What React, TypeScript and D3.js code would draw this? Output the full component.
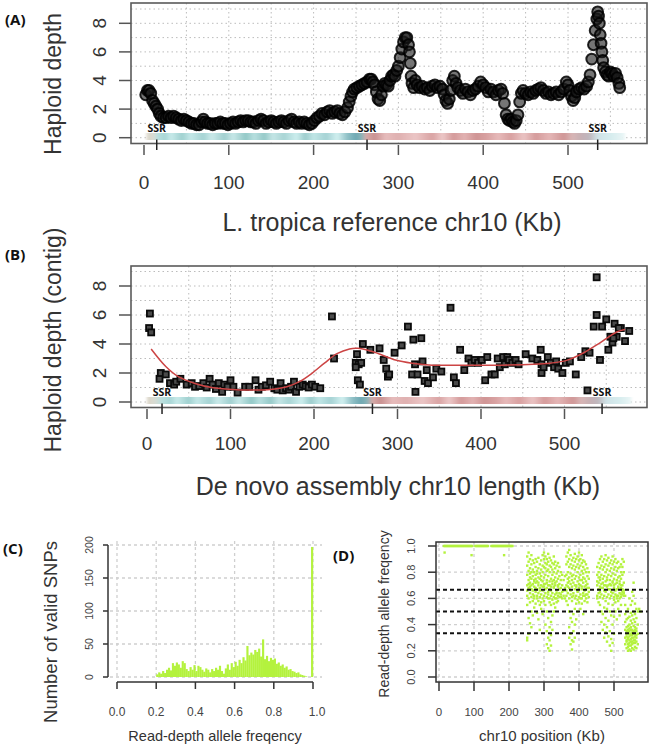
import React from "react";
import * as d3 from "d3";

const SANS = "'Liberation Sans', Arial, Helvetica, sans-serif";
const BOLD = "'Open Sans', 'Liberation Sans', sans-serif";

// ---------- shared ticks ----------
const depthTicks = [0, 2, 4, 6, 8];
const kbTicks = [0, 100, 200, 300, 400, 500];
const depthGrid = [0, 1, 2, 3, 4, 5, 6, 7, 8, 9];
const kbGrid = [50, 100, 150, 200, 250, 300, 350, 400, 450, 500, 550];

// ---------- Panel A: reference depth (Kb, haploid depth) ----------
const refDepth: [number, number][] = [
  [2, 3.0], [4, 3.3], [6, 3.3], [8, 3.1], [10, 2.6], [12, 2.4], [14, 2.2], [16, 2.0], [18, 1.7], [20, 1.5],
  [23, 1.4], [26, 1.4], [29, 1.5], [32, 1.4], [35, 1.5], [38, 1.4], [41, 1.3], [44, 1.2], [47, 1.3], [50, 1.2],
  [53, 1.1], [56, 1.0], [59, 1.0], [62, 0.9], [65, 0.9], [68, 1.1], [70, 1.3], [72, 1.1], [75, 1.0], [78, 1.0],
  [81, 0.9], [84, 1.0], [87, 1.0], [90, 1.1], [93, 1.0], [96, 1.0], [99, 0.9], [102, 1.0], [105, 1.1], [108, 1.0],
  [111, 1.1], [114, 1.2], [117, 1.1], [120, 1.2], [123, 1.2], [126, 1.1], [129, 1.1], [132, 1.0], [135, 1.2], [138, 1.3],
  [141, 1.2], [144, 1.0], [147, 1.1], [150, 1.2], [153, 1.1], [156, 1.0], [159, 1.1], [162, 1.2], [165, 1.1], [168, 1.0],
  [171, 1.2], [174, 1.3], [177, 1.1], [180, 1.0], [183, 1.1], [186, 1.0], [189, 1.1], [192, 1.0], [195, 0.9], [198, 1.0],
  [201, 1.2], [204, 1.4], [207, 1.5], [210, 1.7], [213, 1.6], [216, 1.8], [219, 1.9], [222, 1.7], [225, 1.8], [228, 1.9],
  [231, 1.7], [234, 1.6], [237, 1.8], [240, 2.1], [242, 2.5], [244, 2.9], [246, 3.2], [248, 3.4], [251, 3.5], [254, 3.6],
  [257, 3.7], [260, 3.8], [263, 3.9], [266, 4.1], [268, 4.1], [270, 3.9], [272, 3.7], [274, 3.2], [276, 2.7], [278, 2.6],
  [280, 3.0], [282, 3.6], [284, 3.8], [286, 3.7], [288, 3.6], [290, 4.0], [292, 4.3], [294, 4.4], [296, 4.3], [298, 4.7],
  [300, 5.0], [302, 5.6], [304, 6.2], [306, 6.7], [308, 7.0], [310, 7.0], [312, 6.5], [313, 6.0], [314, 5.2], [315, 4.3],
  [316, 3.8], [318, 3.5], [320, 4.0], [322, 3.7], [325, 3.5], [328, 3.6], [331, 3.4], [334, 3.5], [337, 3.3], [340, 3.6],
  [343, 3.7], [346, 3.5], [349, 3.6], [352, 3.4], [354, 3.0], [356, 2.6], [358, 2.4], [360, 2.7], [362, 3.3], [364, 4.0],
  [366, 4.3], [368, 3.8], [370, 3.5], [373, 3.3], [376, 3.1], [379, 3.4], [382, 3.2], [385, 3.0], [388, 3.3], [391, 3.4],
  [394, 3.6], [397, 3.9], [400, 3.7], [403, 3.5], [406, 3.2], [409, 3.4], [412, 3.2], [415, 3.0], [418, 3.3], [421, 3.4],
  [423, 3.1], [425, 2.4], [427, 1.6], [429, 1.3], [431, 1.2], [433, 1.3], [435, 1.1], [437, 1.0], [439, 1.2], [441, 1.6],
  [443, 2.5], [445, 3.1], [447, 3.3], [450, 3.1], [453, 3.0], [456, 3.2], [459, 3.1], [462, 3.3], [465, 3.4], [468, 3.5],
  [471, 3.3], [474, 3.1], [477, 3.2], [480, 3.0], [483, 3.1], [486, 3.2], [489, 3.0], [492, 3.2], [495, 3.4], [498, 3.9],
  [500, 3.7], [502, 3.3], [504, 2.9], [506, 2.6], [508, 2.8], [510, 3.2], [513, 3.4], [516, 3.5], [519, 3.4], [522, 3.6],
  [524, 3.9], [526, 4.4], [528, 5.5], [530, 6.5], [532, 7.5], [534, 8.3], [535, 8.8], [536, 8.5], [537, 8.0], [538, 7.2],
  [539, 6.6], [540, 6.0], [541, 5.4], [542, 4.9], [544, 4.6], [546, 4.4], [548, 4.3], [550, 4.6], [552, 4.5], [554, 4.3],
  [556, 4.5], [558, 4.2], [560, 3.8], [561, 3.5],
];
const ssrRefKb = [15, 263, 535];
const refBarStops: [number, string][] = [
  [3, "#ddd6c8"], [12, "#d8dcd4"], [16, "#b9e0df"], [25, "#a8d6d6"], [32, "#c8eaea"], [45, "#9fd0cf"],
  [55, "#c5e8e8"], [70, "#a5d3d3"], [80, "#cbeaea"], [95, "#a0cfcf"], [105, "#c8e8e8"], [120, "#92c8c6"],
  [130, "#b8e0e0"], [142, "#95c9c8"], [152, "#c5e6e6"], [165, "#a8d5d5"], [180, "#cdeeee"], [190, "#9ccccc"],
  [200, "#c0e6e6"], [215, "#a5d2d4"], [228, "#d2f0f0"], [240, "#8fc0c6"], [250, "#6ea8b2"], [257, "#8cb4b8"],
  [262, "#d6aaa8"], [272, "#c99191"], [285, "#e6bcbc"], [300, "#dfb0b0"], [320, "#ebc6c6"], [340, "#d9a3a3"],
  [352, "#ecc8c8"], [365, "#d49a9a"], [378, "#e2b2b2"], [392, "#cf9494"], [405, "#d9a2a2"], [418, "#e6baba"],
  [432, "#d8a0a0"], [448, "#eac4c4"], [462, "#d59b9b"], [478, "#e4b6b6"], [495, "#d09696"], [505, "#d8b6b6"],
  [515, "#c7b0b4"], [525, "#bfb7bd"], [535, "#cfe2e6"], [550, "#d6ecee"], [567, "#eaf6f6"],
];

// ---------- Panel B: de novo contig depth ----------
const contigDepth: [number, number][] = [
  [3.5, 6.1], [2.5, 5.1], [5, 4.8], [15, 1.6], [16.5, 2.0], [22.5, 1.9], [27.5, 1.3], [32.5, 1.2], [35, 1.4], [40, 1.6],
  [47.5, 1.2], [53.5, 1.3], [57.5, 1.05], [62.5, 1.1], [67.5, 1.3], [71.5, 1.0], [75, 1.6], [78.5, 1.2], [82.5, 0.9],
  [86, 1.3], [90, 0.7], [92.5, 1.2], [96.5, 1.05], [100, 1.5], [103.5, 1.05], [108.5, 0.65], [117.5, 1.05], [122.5, 1.05],
  [130, 1.5], [133.5, 0.85], [137.5, 1.05], [142.5, 1.15], [147.5, 1.4], [152.5, 0.95], [156, 0.85], [160, 1.3],
  [162.5, 0.8], [166.5, 0.95], [170, 0.85], [172.5, 1.05], [176, 1.4], [178.5, 0.7], [182.5, 1.05], [186.5, 1.2],
  [190, 1.1], [193.5, 1.0], [197.5, 1.2], [201.5, 1.05], [207.5, 0.95], [221.5, 5.9], [224, 3.0], [250, 2.7],
  [251.5, 3.3], [253.5, 2.6], [256.5, 2.7], [250, 2.4], [252.5, 1.5], [255, 1.2], [258.5, 4.0], [267.5, 3.6],
  [278.5, 3.7], [283.5, 2.9], [286.5, 2.3], [288.5, 1.75], [290, 1.9], [296.5, 3.4], [305, 3.9], [312.5, 5.2],
  [317.5, 1.9], [319, 4.3], [321, 2.6], [321.5, 0.7], [324, 1.9], [328.5, 4.4], [330, 2.8], [332.5, 1.45], [335, 2.2],
  [336.5, 1.3], [342.5, 1.7], [346.5, 2.3], [352.5, 2.1], [363.5, 6.5], [367.5, 1.7], [370, 1.3], [375, 3.6],
  [380, 2.2], [385, 3.0], [388.5, 2.7], [392.5, 2.9], [396.5, 2.7], [401, 2.9], [405, 1.5], [407.5, 3.1], [412.5, 1.9],
  [416.5, 1.9], [420, 3.0], [422.5, 2.4], [426.5, 3.1], [428.5, 2.6], [431.5, 3.1], [433.5, 2.9], [437.5, 2.7],
  [441.5, 2.9], [445, 2.6], [453.5, 3.3], [461.5, 3.0], [467.5, 2.9], [471.5, 3.6], [472.5, 2.6], [472.5, 2.0],
  [475, 2.4], [480, 3.1], [483.5, 2.7], [487.5, 2.4], [490, 2.8], [492.5, 2.3], [497.5, 2.0], [501.5, 2.7],
  [506.5, 2.8], [513.5, 1.9], [520, 3.1], [525, 3.5], [527.5, 0.8], [530, 3.4], [535, 5.2], [538.5, 8.6], [538.5, 6.0],
  [542.5, 2.9], [545, 5.2], [550, 5.7], [552.5, 3.6], [555, 4.5], [557.5, 4.1], [560, 5.4], [562.5, 4.5], [567.5, 5.1],
  [572.5, 4.2], [577.5, 4.9], [565, 5.1], [558.5, 4.4],
];
const contigFit: [number, number][] = [
  [5, 3.66], [22.5, 2.45], [37.5, 1.75], [57.5, 1.28], [77.5, 1.0], [102.5, 0.86], [122.5, 0.82], [147.5, 0.86],
  [167.5, 1.05], [182.5, 1.4], [197.5, 1.98], [212.5, 2.68], [227.5, 3.33], [242.5, 3.66], [252.5, 3.7], [262.5, 3.61],
  [277.5, 3.33], [297.5, 2.9], [317.5, 2.68], [337.5, 2.56], [372.5, 2.53], [422.5, 2.54], [462.5, 2.6], [482.5, 2.68],
  [502.5, 2.87], [522.5, 3.38], [542.5, 4.08], [562.5, 4.83], [572.5, 5.0],
];
const ssrContigKb = [18, 270, 545];
const contigBarStops: [number, string][] = [
  [0, "#ddd6c8"], [10, "#d8dcd4"], [18, "#b9e0df"], [28, "#a8d6d6"], [36, "#c8eaea"], [50, "#9fd0cf"],
  [60, "#c5e8e8"], [75, "#a5d3d3"], [85, "#cbeaea"], [100, "#a0cfcf"], [110, "#c8e8e8"], [125, "#92c8c6"],
  [135, "#b8e0e0"], [148, "#95c9c8"], [158, "#c5e6e6"], [170, "#a8d5d5"], [185, "#cdeeee"], [196, "#9ccccc"],
  [206, "#c0e6e6"], [220, "#a5d2d4"], [234, "#d2f0f0"], [246, "#8fc0c6"], [256, "#6ea8b2"], [264, "#8cb4b8"],
  [270, "#d6aaa8"], [280, "#c99191"], [294, "#e6bcbc"], [310, "#dfb0b0"], [330, "#ebc6c6"], [350, "#d9a3a3"],
  [362, "#ecc8c8"], [376, "#d49a9a"], [390, "#e2b2b2"], [404, "#cf9494"], [418, "#d9a2a2"], [430, "#e6baba"],
  [446, "#d8a0a0"], [462, "#eac4c4"], [476, "#d59b9b"], [492, "#e4b6b6"], [510, "#d09696"], [520, "#d8b6b6"],
  [530, "#c7b0b4"], [540, "#bfb7bd"], [550, "#cfe2e6"], [565, "#d6ecee"], [580, "#eaf6f6"],
];

// ---------- Panel C: allele frequency histogram ----------
const afTicks = [0, 0.2, 0.4, 0.6, 0.8, 1.0];
const afTickLabels = ["0.0", "0.2", "0.4", "0.6", "0.8", "1.0"];
const snpTicks = [0, 50, 100, 150, 200];
const afBinStart = 0.2;
const afBinWidth = 0.01;
const afCounts = [
  4, 7, 5, 9, 6, 11, 14, 10, 21, 17,
  22, 19, 14, 24, 21, 12, 9, 15, 11, 18,
  9, 17, 15, 11, 8, 13, 11, 7, 12, 9,
  14, 11, 17, 9, 5, 13, 19, 11, 21, 15,
  23, 17, 26, 21, 30, 25, 47, 33, 37, 34,
  41, 38, 43, 31, 57, 27, 32, 24, 29, 26,
  28, 20, 22, 17, 19, 14, 16, 11, 12, 9,
  8, 6, 7, 4, 3, 2, 1, 0, 0, 197,
];

// ---------- Panel D: allele frequency along chr10 ----------
const posTicks = [0, 100, 200, 300, 400, 500];
const freqTicks = [0, 0.2, 0.4, 0.6, 0.8, 1.0];
const freqTickLabels = ["0.0", "0.2", "0.4", "0.6", "0.8", "1.0"];
const ploidyLines = [1 / 3, 1 / 2, 2 / 3];
const homozygousKb = [
  14, 17, 20, 23, 26, 29, 32, 35, 38, 41, 44, 47, 50, 53, 56, 59, 62, 65, 68, 71, 74, 77, 80, 83, 86, 89, 92, 95,
  104, 107, 110, 113, 116, 119, 122, 125, 128, 131, 134, 137, 140,
  150, 153, 156, 159, 162, 165, 168, 171, 174, 177, 180, 183, 186, 189, 192, 195, 198, 201, 204, 207, 210,
];
const freqOutliers: [number, number][] = [[16, 0.95], [93, 0.93], [186, 0.93], [576, 0.5], [572, 0.52]];
const freqColumns: [number, number[]][] = [
  [252, [.62, .7, .78, .85, .92, .3, .28, .55, .66]],
  [256, [.6, .68, .74, .81, .88, .95, .45, .33, .71]],
  [260, [.64, .72, .79, .83, .9, .57, .41, .69, .76]],
  [264, [.61, .67, .75, .86, .93, .5, .38, .7, .8]],
  [268, [.63, .71, .77, .82, .89, .58, .47, .66]],
  [272, [.6, .69, .74, .8, .87, .62, .53, .73]],
  [276, [.65, .72, .78, .84, .9, .56, .68, .75]],
  [280, [.62, .67, .73, .81, .88, .6, .49, .79]],
  [284, [.64, .7, .76, .83, .91, .58, .44, .72]],
  [288, [.61, .68, .75, .79, .86, .55, .36, .66]],
  [292, [.63, .7, .77, .82, .89, .57, .52, .74]],
  [296, [.6, .66, .73, .8, .85, .93, .48, .69]],
  [300, [.62, .69, .76, .84, .9, .95, .58, .71]],
  [304, [.64, .71, .78, .83, .87, .92, .55, .4, .67]],
  [308, [.61, .68, .74, .81, .86, .9, .5, .35, .25, .72]],
  [312, [.63, .7, .77, .82, .88, .94, .6, .3, .22, .45, .65]],
  [316, [.6, .67, .73, .8, .85, .91, .57, .28, .2, .38, .7]],
  [320, [.62, .69, .75, .84, .89, .55, .42, .32, .24, .66]],
  [324, [.64, .71, .78, .82, .87, .59, .47, .36, .73]],
  [328, [.61, .68, .74, .8, .86, .92, .56, .5, .69]],
  [332, [.63, .7, .76, .83, .88, .6, .53, .72]],
  [336, [.6, .66, .73, .79, .85, .57, .64]],
  [340, [.62, .69, .75, .81, .87, .58, .7]],
  [344, [.64, .71, .77, .84, .61, .67]],
  [348, [.61, .68, .74, .8, .63]],
  [352, [.65, .7, .78, .6]],
  [356, [.66, .74, .62]],
  [360, [.68, .77, .6]],
  [364, [.62, .7, .78, .86, .92, .58, .66]],
  [368, [.64, .72, .8, .88, .95, .55, .69, .75]],
  [372, [.6, .68, .76, .84, .9, .97, .5, .38, .3, .73]],
  [376, [.63, .71, .79, .86, .93, .45, .33, .25, .66]],
  [380, [.61, .69, .77, .83, .89, .42, .28, .21, .58, .74]],
  [384, [.64, .72, .78, .85, .91, .48, .35, .27, .62]],
  [388, [.6, .67, .75, .82, .88, .94, .52, .4, .3, .7]],
  [392, [.62, .7, .77, .84, .9, .56, .44, .69]],
  [396, [.65, .73, .8, .86, .92, .59, .5, .66]],
  [400, [.61, .68, .76, .83, .89, .95, .57, .71]],
  [404, [.63, .7, .78, .85, .9, .6, .52, .74]],
  [408, [.6, .67, .74, .81, .87, .93, .56, .69]],
  [412, [.64, .72, .79, .84, .89, .62, .48, .76]],
  [416, [.62, .69, .75, .82, .88, .58, .66]],
  [420, [.6, .67, .73, .8, .86, .63, .7]],
  [424, [.63, .71, .77, .83, .57, .68]],
  [428, [.61, .68, .75, .8, .65]],
  [452, [.62, .7, .78, .84, .6, .73]],
  [456, [.64, .72, .8, .87, .57, .67, .76]],
  [460, [.61, .69, .76, .83, .9, .55, .65, .74]],
  [464, [.63, .71, .78, .85, .92, .5, .42, .68]],
  [468, [.6, .68, .75, .82, .88, .48, .36, .72]],
  [472, [.62, .7, .77, .84, .9, .53, .4, .3, .66]],
  [476, [.65, .73, .8, .86, .93, .58, .45, .34, .7]],
  [480, [.61, .69, .76, .82, .89, .52, .38, .27, .74]],
  [484, [.63, .7, .78, .85, .91, .56, .43, .31, .67]],
  [488, [.6, .67, .74, .81, .87, .5, .35, .24, .71]],
  [492, [.62, .7, .77, .83, .89, .47, .29, .2, .65]],
  [496, [.64, .72, .79, .86, .92, .55, .4, .26, .73]],
  [500, [.61, .68, .75, .82, .88, .59, .46, .33, .7]],
  [504, [.63, .71, .78, .84, .9, .57, .5, .66]],
  [508, [.6, .67, .74, .81, .87, .62, .44, .72]],
  [512, [.62, .69, .76, .83, .88, .58, .52, .68]],
  [516, [.64, .71, .77, .84, .6, .47, .73]],
  [520, [.61, .68, .75, .8, .86, .63, .55, .7]],
  [524, [.63, .7, .78, .84, .9, .65, .67]],
  [528, [.62, .66, .72, .8, .88, .64]],
  [532, [.3, .36, .42, .48, .25, .55, .62]],
  [536, [.22, .28, .33, .38, .44, .5, .31, .27, .35]],
  [540, [.2, .25, .3, .34, .39, .45, .52, .29, .36, .23]],
  [544, [.21, .26, .31, .35, .4, .46, .33, .28, .37, .24, .6]],
  [548, [.2, .24, .29, .33, .38, .43, .49, .32, .27, .36, .55]],
  [552, [.22, .27, .32, .36, .41, .47, .3, .25, .34, .58, .65]],
  [556, [.21, .26, .3, .35, .39, .44, .5, .28, .33, .72, .62]],
  [560, [.23, .28, .34, .38, .42, .48, .31, .26, .36, .56]],
  [564, [.22, .27, .32, .37, .45, .3, .35, .52]],
  [568, [.25, .33, .4, .5]],
];

const GREEN = "#b4f23e";

type Box = { left: number; right: number; top: number; bottom: number };

function DepthFrame(props: {
  id: string;
  box: Box;
  x: d3.ScaleLinear<number, number>;
  y: d3.ScaleLinear<number, number>;
  barY: number;
  barStops: [number, string][];
  ssr: number[];
  yTitle: string;
  yTitleY: number;
  xTitle: string;
  xTitleX: number;
  xTitleY: number;
  tickLabelY: number;
  children?: React.ReactNode;
}) {
  const { id, box, x, y, barY, barStops, ssr } = props;
  const b0 = barStops[0][0];
  const b1 = barStops[barStops.length - 1][0];
  return (
    <g>
      <defs>
        <linearGradient id={id + "grad"} gradientUnits="userSpaceOnUse" x1={x(b0)} x2={x(b1)} y1={0} y2={0}>
          {barStops.map(([k, c], i) => (
            <stop key={i} offset={(k - b0) / (b1 - b0)} stopColor={c} />
          ))}
        </linearGradient>
      </defs>
      {depthGrid.map((v) => (
        <line key={"h" + v} x1={box.left} x2={box.right} y1={y(v)} y2={y(v)} stroke="#bcbcbc" strokeWidth={1} strokeDasharray="1.5 3" />
      ))}
      {kbGrid.map((v) => (
        <line key={"v" + v} x1={x(v)} x2={x(v)} y1={box.top} y2={box.bottom} stroke="#bcbcbc" strokeWidth={1} strokeDasharray="1.5 3" />
      ))}
      <rect x={x(b0)} width={x(b1) - x(b0)} y={barY} height={7} fill={`url(#${id}grad)`} filter="url(#soft)" />
      {props.children}
      <rect x={box.left} y={box.top} width={box.right - box.left} height={box.bottom - box.top} fill="none" stroke="#5a5a5a" strokeWidth={1.6} />
      {kbTicks.map((v) => (
        <g key={"xt" + v}>
          <line x1={x(v)} x2={x(v)} y1={box.bottom + 1.5} y2={box.bottom + 11.5} stroke="#555" strokeWidth={1.5} />
          <text x={x(v)} y={props.tickLabelY} textAnchor="middle" dominantBaseline="central" fontFamily={SANS} fontSize={19} fill="#333">
            {v}
          </text>
        </g>
      ))}
      {ssr.map((v) => (
        <g key={"ssr" + v}>
          <line x1={x(v)} x2={x(v)} y1={box.bottom - 4} y2={box.bottom + 6.5} stroke="#222" strokeWidth={1.5} />
          <text x={x(v)} y={barY - 5} textAnchor="middle" dominantBaseline="central" fontFamily={BOLD} fontWeight={700} fontSize={10.5} fill="#111">
            SSR
          </text>
        </g>
      ))}
      {depthTicks.map((v) => (
        <g key={"yt" + v}>
          <line x1={box.left - 12} x2={box.left} y1={y(v)} y2={y(v)} stroke="#555" strokeWidth={1.5} />
          <text transform={`translate(${box.left - 32},${y(v)}) rotate(-90)`} textAnchor="middle" dominantBaseline="central" fontFamily={SANS} fontSize={19} fill="#333">
            {v}
          </text>
        </g>
      ))}
      <text transform={`translate(53,${props.yTitleY}) rotate(-90)`} textAnchor="middle" dominantBaseline="central" fontFamily={SANS} fontSize={23} fill="#333">
        {props.yTitle}
      </text>
      <text x={props.xTitleX} y={props.xTitleY} textAnchor="middle" dominantBaseline="central" fontFamily={SANS} fontSize={25} fill="#333">
        {props.xTitle}
      </text>
    </g>
  );
}

export default function App() {
  const boxA: Box = { left: 131, right: 647, top: 3, bottom: 143.5 };
  const xA = d3.scaleLinear().domain([0, 500]).range([144, 568]);
  const yA = d3.scaleLinear().domain([0, 8]).range([137.7, 23.3]);

  const boxB: Box = { left: 131, right: 647, top: 266, bottom: 407.5 };
  const xB = d3.scaleLinear().domain([0, 500]).range([147, 564.5]);
  const yB = d3.scaleLinear().domain([0, 8]).range([402, 286]);
  const fitLine = d3
    .line<[number, number]>()
    .x((d) => xB(d[0]))
    .y((d) => yB(d[1]))
    .curve(d3.curveCatmullRom.alpha(0.5));

  const xC = d3.scaleLinear().domain([0, 1]).range([117, 313]);
  const yC = d3.scaleLinear().domain([0, 200]).range([677, 545]);

  const boxD: Box = { left: 436, right: 648, top: 542, bottom: 682 };
  const xD = d3.scaleLinear().domain([0, 500]).range([439, 614]);
  const yD = d3.scaleLinear().domain([0, 1]).range([677, 546]);

  const dPoints: [number, number][] = [
    ...homozygousKb.map((k) => [k, 1.0] as [number, number]),
    ...freqOutliers,
    ...freqColumns.flatMap(([k, vals]) => vals.map((v) => [k, v] as [number, number])),
  ];

  return (
    <svg width={652} height={744} style={{ position: "absolute", left: 0, top: 0, background: "#fff" }}>
      <defs>
        <filter id="soft" x="-5%" y="-60%" width="110%" height="220%">
          <feGaussianBlur stdDeviation="1.6 0.5" />
        </filter>
      </defs>
      <rect x={0} y={0} width={652} height={744} fill="#fff" />

      {/* Panel A */}
      <DepthFrame
        id="a"
        box={boxA}
        x={xA}
        y={yA}
        barY={133}
        barStops={refBarStops}
        ssr={ssrRefKb}
        yTitle="Haploid depth"
        yTitleY={84}
        xTitle="L. tropica reference chr10 (Kb)"
        xTitleX={392}
        xTitleY={222}
        tickLabelY={182}
      >
        {refDepth.map(([k, v], i) => (
          <circle key={i} cx={xA(k)} cy={yA(v)} r={5.4} fill="rgba(25,25,25,0.6)" stroke="rgba(0,0,0,0.85)" strokeWidth={2} />
        ))}
      </DepthFrame>
      <text x={5} y={19} dominantBaseline="central" fontFamily={BOLD} fontWeight={700} fontSize={15} fill="#111">(A)</text>

      {/* Panel B */}
      <DepthFrame
        id="b"
        box={boxB}
        x={xB}
        y={yB}
        barY={397}
        barStops={contigBarStops}
        ssr={ssrContigKb}
        yTitle="Haploid depth (contig)"
        yTitleY={340}
        xTitle="De novo assembly chr10 length (Kb)"
        xTitleX={398}
        xTitleY={486}
        tickLabelY={443}
      >
        {contigDepth.map(([k, v], i) => (
          <rect key={i} x={xB(k) - 3} y={yB(v) - 3} width={6} height={6} fill="#4a4a4a" stroke="#0a0a0a" strokeWidth={1.8} />
        ))}
        <path d={fitLine(contigFit) ?? ""} fill="none" stroke="#cc4444" strokeWidth={1.5} />
      </DepthFrame>
      <text x={5} y={254} dominantBaseline="central" fontFamily={BOLD} fontWeight={700} fontSize={15} fill="#111">(B)</text>

      {/* Panel C */}
      <g>
        {snpTicks.map((v) => (
          <line key={"ch" + v} x1={110} x2={322} y1={yC(v)} y2={yC(v)} stroke="#cfcfcf" strokeWidth={1.3} strokeDasharray="3 3" />
        ))}
        {afTicks.map((v) => (
          <line key={"cv" + v} x1={xC(v)} x2={xC(v)} y1={541} y2={679} stroke="#cfcfcf" strokeWidth={1.3} strokeDasharray="3 3" />
        ))}
        {afCounts.map((c, i) => {
          const x0 = xC(afBinStart + i * afBinWidth);
          const x1 = xC(afBinStart + (i + 1) * afBinWidth);
          return c > 0 ? (
            <rect key={i} x={x0} y={yC(c)} width={x1 - x0 + 0.2} height={yC(0) - yC(c)} fill={GREEN} />
          ) : null;
        })}
        <line x1={108} x2={108} y1={yC(0)} y2={yC(200)} stroke="#333" strokeWidth={1.5} />
        {snpTicks.map((v) => (
          <g key={"cy" + v}>
            <line x1={103} x2={108} y1={yC(v)} y2={yC(v)} stroke="#333" strokeWidth={1.5} />
            <text transform={`translate(89,${yC(v)}) rotate(-90)`} textAnchor="middle" dominantBaseline="central" fontFamily={SANS} fontSize={10.5} fill="#444">
              {v}
            </text>
          </g>
        ))}
        <line x1={xC(0)} x2={xC(1)} y1={682} y2={682} stroke="#333" strokeWidth={1.5} />
        {afTicks.map((v, i) => (
          <g key={"cx" + v}>
            <line x1={xC(v)} x2={xC(v)} y1={682} y2={689} stroke="#333" strokeWidth={1.5} />
            <text x={xC(v) + (i === 5 ? 4 : 0)} y={712} textAnchor="middle" dominantBaseline="central" fontFamily={SANS} fontSize={12} fill="#444">
              {afTickLabels[i]}
            </text>
          </g>
        ))}
        <text x={215} y={736} textAnchor="middle" dominantBaseline="central" fontFamily={SANS} fontSize={14.5} fill="#333">
          Read-depth allele freqency
        </text>
        <text transform={`translate(50,632) rotate(-90)`} textAnchor="middle" dominantBaseline="central" fontFamily={SANS} fontSize={18.5} fill="#333">
          Number of valid SNPs
        </text>
        <text x={3} y={548} dominantBaseline="central" fontFamily={BOLD} fontWeight={700} fontSize={15} fill="#111">(C)</text>
      </g>

      {/* Panel D */}
      <g>
        {freqTicks.map((v) => (
          <line key={"dh" + v} x1={boxD.left} x2={boxD.right} y1={yD(v)} y2={yD(v)} stroke="#cfcfcf" strokeWidth={1.3} strokeDasharray="3 3" />
        ))}
        {posTicks.map((v) => (
          <line key={"dv" + v} x1={xD(v)} x2={xD(v)} y1={boxD.top} y2={boxD.bottom} stroke="#cfcfcf" strokeWidth={1.3} strokeDasharray="3 3" />
        ))}
        {dPoints.map(([k, v], i) => (
          <rect key={i} x={xD(k) - 1.2} y={yD(v) - 1.2} width={2.4} height={2.4} fill={GREEN} />
        ))}
        {ploidyLines.map((v) => (
          <line key={"pl" + v} x1={boxD.left} x2={boxD.right} y1={yD(v)} y2={yD(v)} stroke="#111" strokeWidth={2} strokeDasharray="4 3" />
        ))}
        <rect x={boxD.left} y={boxD.top} width={boxD.right - boxD.left} height={boxD.bottom - boxD.top} fill="none" stroke="#333" strokeWidth={1.5} />
        {posTicks.map((v) => (
          <g key={"dx" + v}>
            <line x1={xD(v)} x2={xD(v)} y1={boxD.bottom} y2={boxD.bottom + 9} stroke="#333" strokeWidth={1.5} />
            <text x={xD(v)} y={712} textAnchor="middle" dominantBaseline="central" fontFamily={SANS} fontSize={11.5} fill="#444">
              {v}
            </text>
          </g>
        ))}
        {freqTicks.map((v, i) => (
          <g key={"dy" + v}>
            <line x1={boxD.left - 8} x2={boxD.left} y1={yD(v)} y2={yD(v)} stroke="#333" strokeWidth={1.5} />
            <text transform={`translate(411,${yD(v)}) rotate(-90)`} textAnchor="middle" dominantBaseline="central" fontFamily={SANS} fontSize={11} fill="#444">
              {freqTickLabels[i]}
            </text>
          </g>
        ))}
        <text x={542} y={735} textAnchor="middle" dominantBaseline="central" fontFamily={SANS} fontSize={15} fill="#333">
          chr10 position (Kb)
        </text>
        <text transform={`translate(384,614) rotate(-90)`} textAnchor="middle" dominantBaseline="central" fontFamily={SANS} fontSize={14} fill="#333">
          Read-depth allele freqency
        </text>
        <text x={333} y={555} dominantBaseline="central" fontFamily={BOLD} fontWeight={700} fontSize={15} fill="#111">(D)</text>
      </g>
    </svg>
  );
}
